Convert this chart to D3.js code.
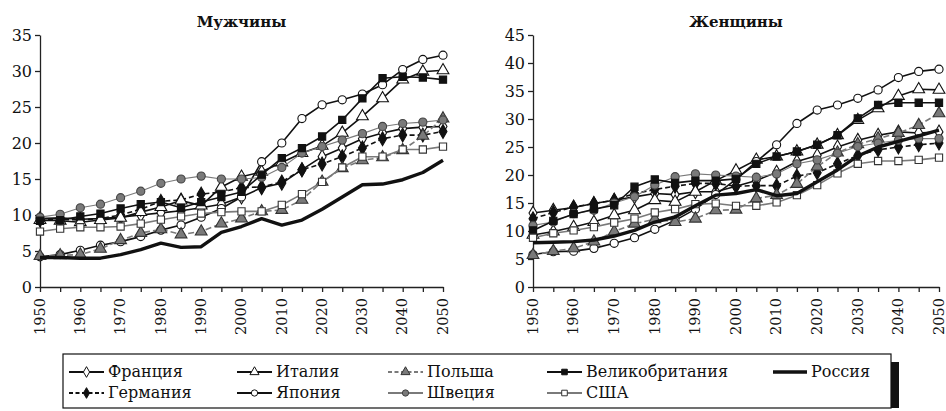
<!DOCTYPE html>
<html>
<head>
<meta charset="utf-8">
<script src="https://cdn.jsdelivr.net/npm/d3@7"></script>
<style>
  body { margin: 0; background: #fff; }
  svg text { font-family: "DejaVu Serif", "Liberation Serif", serif; fill: #111; }
</style>
</head>
<body>
<svg id="chart" width="946" height="411"></svg>
<script>
'use strict'

const years = d3.range(1950, 2051, 5)

const countries = ['Франция', 'Германия', 'Италия', 'Япония', 'Польша', 'Швеция', 'Великобритания', 'США', 'Россия']

// мужчины
const menFrance  = [9.5, 9.6, 9.4, 9.5, 9.7, 10.0, 10.3, 10.6, 11.0, 11.5, 12.5, 13.8, 14.4, 16.3, 18.1, 19.3, 20.6, 21.4, 22.0, 22.2, 22.3]
const menGermany = [9.3, 9.4, 9.3, 9.5, 10.0, 10.8, 11.9, 12.1, 12.9, 13.2, 13.8, 13.9, 14.6, 16.3, 17.1, 18.1, 19.3, 20.6, 21.1, 21.1, 21.6]
const menItaly   = [9.3, 9.2, 9.0, 9.3, 9.6, 10.4, 11.1, 12.0, 11.3, 13.9, 15.3, 16.0, 17.3, 18.6, 19.6, 21.4, 23.7, 26.2, 28.8, 29.9, 30.1]
const menJapan   = [4.2, 4.5, 5.1, 5.8, 6.3, 7.0, 7.9, 8.6, 9.7, 10.9, 12.5, 17.4, 20.0, 23.4, 25.3, 26.0, 26.8, 28.1, 30.2, 31.6, 32.2]
const menPoland  = [4.3, 4.4, 4.5, 5.3, 6.5, 7.5, 8.0, 7.3, 7.7, 8.8, 9.5, 10.5, 10.7, 12.1, 14.6, 16.5, 17.6, 18.0, 19.0, 21.0, 23.4]
const menSweden  = [9.7, 10.1, 11.0, 11.5, 12.4, 13.3, 14.4, 15.0, 15.4, 15.0, 15.0, 15.2, 16.6, 18.6, 19.5, 20.4, 21.3, 22.3, 22.7, 22.9, 23.2]
const menUK      = [9.2, 9.3, 9.8, 10.2, 10.9, 11.5, 11.8, 11.0, 11.8, 12.5, 13.2, 15.6, 17.9, 19.3, 20.9, 23.2, 26.2, 29.0, 29.2, 29.1, 28.8]
const menUSA     = [7.7, 8.1, 8.3, 8.3, 8.4, 8.8, 9.35, 9.8, 10.2, 10.4, 10.5, 10.5, 11.4, 12.9, 14.6, 16.6, 18.1, 18.1, 19.1, 19.1, 19.5]
const menRussia  = [4.1, 4.1, 4.0, 4.0, 4.5, 5.2, 6.1, 5.5, 5.6, 7.6, 8.4, 9.5, 8.6, 9.3, 10.8, 12.5, 14.2, 14.3, 14.9, 15.9, 17.6]

// женщины
const womenFrance  = [13.2, 13.7, 14.2, 14.9, 15.5, 16.1, 16.7, 16.5, 17.0, 17.0, 18.0, 19.0, 20.5, 22.4, 23.5, 25.0, 26.2, 27.1, 27.7, 27.5, 27.7]
const womenGermany = [12.2, 13.3, 14.3, 14.9, 15.5, 16.7, 17.4, 18.0, 18.5, 18.5, 18.0, 18.1, 18.1, 19.8, 20.4, 22.0, 23.5, 24.5, 25.0, 25.4, 25.7]
const womenItaly   = [9.3, 9.9, 10.7, 11.6, 12.8, 13.7, 15.5, 15.2, 17.0, 19.0, 20.8, 22.7, 23.3, 24.2, 25.4, 27.1, 29.8, 31.9, 34.1, 35.3, 35.2]
const womenJapan   = [5.8, 6.3, 6.4, 6.9, 7.8, 8.8, 10.3, 11.9, 13.9, 16.5, 19.2, 22.4, 25.4, 29.2, 31.6, 32.5, 33.7, 35.2, 37.4, 38.5, 38.9]
const womenPoland  = [5.7, 6.4, 6.9, 8.1, 9.9, 11.3, 12.1, 11.6, 12.2, 13.7, 13.8, 15.8, 16.4, 18.4, 21.5, 24.0, 25.5, 26.5, 27.5, 28.9, 31.0]
const womenSweden  = [11.0, 11.6, 13.1, 13.7, 15.0, 16.1, 18.2, 19.7, 20.2, 20.0, 19.8, 19.6, 20.2, 22.0, 22.7, 23.9, 25.1, 25.7, 26.2, 26.5, 26.5]
const womenUK      = [10.1, 11.8, 13.0, 13.9, 14.6, 17.9, 19.2, 18.6, 19.0, 19.0, 19.3, 22.0, 23.3, 24.2, 25.4, 27.1, 30.1, 32.5, 32.9, 32.9, 32.9]
const womenUSA     = [8.8, 9.6, 10.1, 10.7, 11.5, 12.2, 13.3, 13.9, 14.8, 14.9, 14.5, 14.5, 15.1, 16.4, 18.2, 20.3, 22.0, 22.5, 22.5, 22.7, 23.1]
const womenRussia  = [7.9, 8.0, 8.1, 8.4, 9.1, 10.1, 11.6, 12.5, 14.5, 16.4, 16.7, 17.4, 16.3, 16.7, 18.8, 20.9, 23.4, 25.0, 26.0, 27.0, 28.0]

const menTicks = d3.range(0, 36, 5)
const womenTicks = d3.range(0, 46, 5)
const yearLabels = d3.range(1950, 2051, 10)

const menData = [menFrance, menGermany, menItaly, menJapan, menPoland, menSweden, menUK, menUSA, menRussia]
const womenData = [womenFrance, womenGermany, womenItaly, womenJapan, womenPoland, womenSweden, womenUK, womenUSA, womenRussia]

const BLACK = '#111'
const GREY = '#7a7a7a'

// стиль каждой страны: линия и маркер
const styles = {
    'Франция':        { stroke: BLACK, width: 1.6, dash: null,  marker: 'diamond',  fill: '#fff', mstroke: BLACK },
    'Германия':       { stroke: BLACK, width: 1.6, dash: '5,3', marker: 'diamond',  fill: BLACK,  mstroke: BLACK },
    'Италия':         { stroke: BLACK, width: 1.6, dash: null,  marker: 'triangle', fill: '#fff', mstroke: BLACK },
    'Япония':         { stroke: BLACK, width: 1.6, dash: null,  marker: 'circle',   fill: '#fff', mstroke: BLACK },
    'Польша':         { stroke: GREY,  width: 1.6, dash: '6,3', marker: 'triangle', fill: GREY,   mstroke: '#333' },
    'Швеция':         { stroke: GREY,  width: 1.1, dash: null,  marker: 'circle',   fill: GREY,   mstroke: '#444' },
    'Великобритания': { stroke: BLACK, width: 1.6, dash: null,  marker: 'square',   fill: BLACK,  mstroke: BLACK },
    'США':            { stroke: GREY,  width: 1.6, dash: null,  marker: 'square',   fill: '#fff', mstroke: '#333' },
    'Россия':         { stroke: BLACK, width: 3.4, dash: null,  marker: null }
}

const symbolTypes = {
    diamond: d3.symbolDiamond,
    triangle: d3.symbolTriangle,
    circle: d3.symbolCircle,
    square: d3.symbolSquare
}
const symbolSizes = { diamond: 55, triangle: 60, circle: 52, square: 52 }

const svg = d3.select('#chart')

function drawPanel(left, right, top, bottom, yMax, yTicks, series, title) {

    let x = d3.scaleLinear().domain([1950, 2050]).range([left, right])
    let y = d3.scaleLinear().domain([0, yMax]).range([bottom, top])

    let g = svg.append('g')

    g.append('text')
        .attr('x', (left + right) / 2)
        .attr('y', 27)
        .attr('text-anchor', 'middle')
        .style('font-weight', 'bold')
        .style('font-size', '15px')
        .text(title)

    let yAxis = g.append('g')
        .attr('transform', 'translate(' + left + ',0)')
        .call(d3.axisLeft(y).tickValues(yTicks).tickSize(5).tickSizeOuter(0).tickPadding(3))
    yAxis.selectAll('text').style('font-size', '16px').attr('dy', '0.36em')

    let xAxis = g.append('g')
        .attr('transform', 'translate(0,' + bottom + ')')
        .call(d3.axisBottom(x).tickValues(years).tickSize(5).tickSizeOuter(0).tickFormat(''))

    g.selectAll('.domain, .tick line').attr('stroke', '#222').attr('stroke-width', 1.3)

    g.selectAll('.year-label')
        .data(yearLabels)
        .enter().append('text')
        .attr('class', 'year-label')
        .attr('transform', d => 'translate(' + x(d) + ',' + (bottom + 11) + ') rotate(-90)')
        .attr('text-anchor', 'end')
        .attr('dy', '0.33em')
        .style('font-size', '14.5px')
        .text(d => d)

    let line = d3.line()
        .x((d, i) => x(years[i]))
        .y(d => y(d))

    series.forEach((values, k) => {

        let st = styles[countries[k]]

        g.append('path')
            .datum(values)
            .attr('fill', 'none')
            .attr('stroke', st.stroke)
            .attr('stroke-width', st.width)
            .attr('stroke-dasharray', st.dash)
            .attr('stroke-linejoin', 'round')
            .attr('d', line)

        if (st.marker) {
            g.selectAll(null)
                .data(values)
                .enter().append('path')
                .attr('transform', (d, i) => 'translate(' + x(years[i]) + ',' + y(d) + ')')
                .attr('d', d3.symbol().type(symbolTypes[st.marker]).size(symbolSizes[st.marker]))
                .attr('fill', st.fill)
                .attr('stroke', st.mstroke)
                .attr('stroke-width', 1.1)
        }
    })
}

drawPanel(40, 443, 35, 287, 35, menTicks, menData, 'Мужчины')
drawPanel(533, 939, 35, 287, 45, womenTicks, womenData, 'Женщины')

// легенда
function drawLegend() {

    const boxX = 63, boxY = 354, boxW = 828, boxH = 54

    let lg = svg.append('g')

    // тень только справа, снизу рисунок обрезан
    lg.append('rect')
        .attr('x', boxX + 8).attr('y', boxY + 8)
        .attr('width', boxW).attr('height', boxH - 8)
        .attr('fill', BLACK)

    lg.append('rect')
        .attr('x', boxX).attr('y', boxY)
        .attr('width', boxW).attr('height', boxH)
        .attr('fill', '#fff')
        .attr('stroke', BLACK)
        .attr('stroke-width', 1.2)

    const colX = [69, 237, 388, 547, 773]
    const rowY = [372, 393]
    const order = [
        ['Франция', 0, 0], ['Италия', 1, 0], ['Польша', 2, 0], ['Великобритания', 3, 0], ['Россия', 4, 0],
        ['Германия', 0, 1], ['Япония', 1, 1], ['Швеция', 2, 1], ['США', 3, 1]
    ]

    order.forEach(([name, c, r]) => {

        let st = styles[name]
        let x0 = colX[c], yy = rowY[r]
        let len = name == 'Россия' ? 34 : 35

        lg.append('line')
            .attr('x1', x0).attr('x2', x0 + len)
            .attr('y1', yy).attr('y2', yy)
            .attr('stroke', st.stroke)
            .attr('stroke-width', name == 'Россия' ? 3.6 : 1.8)
            .attr('stroke-dasharray', st.dash ? '4,2.5' : null)

        if (st.marker) {
            lg.append('path')
                .attr('transform', 'translate(' + (x0 + len / 2) + ',' + yy + ')')
                .attr('d', d3.symbol().type(symbolTypes[st.marker]).size(symbolSizes[st.marker] * 0.6))
                .attr('fill', st.fill)
                .attr('stroke', st.mstroke)
                .attr('stroke-width', 1)
        }

        lg.append('text')
            .attr('x', x0 + len + 4)
            .attr('y', yy)
            .attr('dy', '0.33em')
            .style('font-size', '16px')
            .text(name)
    })
}

drawLegend()
</script>
</body>
</html>
